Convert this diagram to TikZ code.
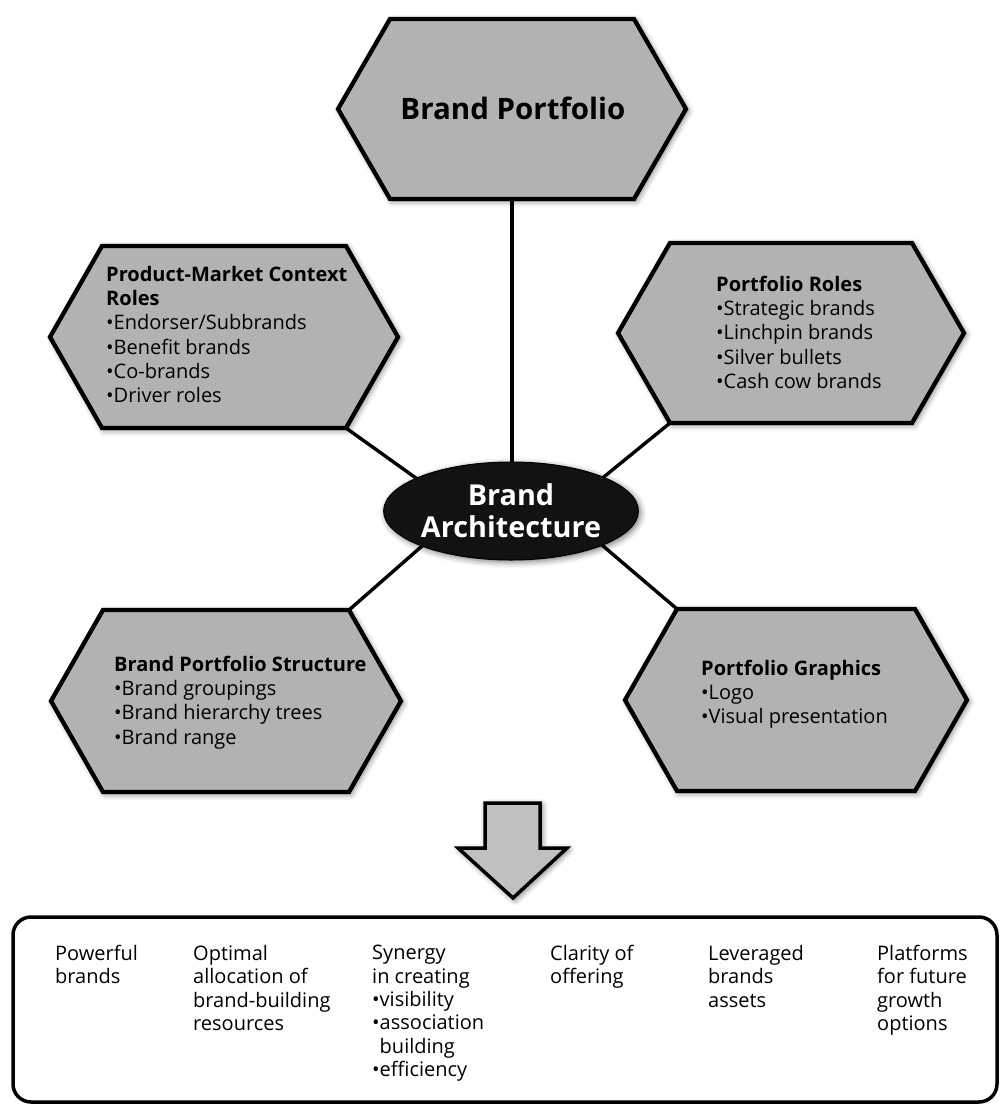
\documentclass[tikz,border=0pt]{standalone}
\usepackage{fontspec}
\setmainfont{Open Sans}
\usetikzlibrary{shadows.blur,shapes.geometric}

\definecolor{hexfill}{RGB}{178,178,178}
\definecolor{arrowfill}{RGB}{192,192,192}
\definecolor{hubfill}{RGB}{18,18,18}

\tikzset{
  softshadow/.style={blur shadow={shadow xshift=2pt, shadow yshift=-2pt,
      shadow blur radius=6pt, shadow opacity=55}},
  hexagon/.style={draw=black, line width=4.3pt, line join=miter,
      fill=hexfill, softshadow},
  link/.style={draw=black, line width=3.4pt},
  hextext/.style={anchor=north west, inner sep=0pt, align=left,
      font=\fontsize{20}{24.2}\selectfont},
  outcome/.style={anchor=north west, inner sep=0pt, align=left,
      font=\fontsize{20}{23.4}\selectfont},
}

% hexagon with pointed left/right ends: name, centre x, centre y, half width, half height
\newcommand\hexbox[5]{%
  \coordinate (#1-l)  at ({#2-#4},{#3});
  \coordinate (#1-tl) at ({#2-#4+52},{#3-#5});
  \coordinate (#1-tr) at ({#2+#4-52},{#3-#5});
  \coordinate (#1-r)  at ({#2+#4},{#3});
  \coordinate (#1-br) at ({#2+#4-52},{#3+#5});
  \coordinate (#1-bl) at ({#2-#4+52},{#3+#5});
  \coordinate (#1-b)  at ({#2},{#3+#5});
  \draw[hexagon] (#1-l) -- (#1-tl) -- (#1-tr) -- (#1-r) -- (#1-br) -- (#1-bl) -- cycle;
}

\begin{document}
\begin{tikzpicture}[x=1pt, y=-1pt]
  \useasboundingbox (0,0) rectangle (1001,1106);

  % hub anchor points for the spokes (hidden under the ellipse)
  \coordinate (hubL) at (462,511);
  \coordinate (hubR) at (562,511);
  \coordinate (hubT) at (512,511);

  % corner positions of the hexagons (needed before drawing the spokes)
  \coordinate (top-b)  at (512,199);
  \coordinate (pmc-br) at (346,428);
  \coordinate (pr-bl)  at (670,423);
  \coordinate (bps-tr) at (349,610);
  \coordinate (pg-tl)  at (677,609);

  % spokes
  \draw[link] (top-b)  -- (hubT);
  \draw[link] (pmc-br) -- (hubL);
  \draw[link] (bps-tr) -- (hubL);
  \draw[link] (pr-bl)  -- (hubR);
  \draw[link] (pg-tl)  -- (hubR);

  % hexagons
  \hexbox{top}{512}{109}{174}{90}
  \hexbox{pmc}{224}{337}{174}{91}
  \hexbox{pr}{791}{333}{173}{90}
  \hexbox{bps}{226}{701}{175}{91}
  \hexbox{pg}{796}{700}{171}{91}

  \node[font=\bfseries\fontsize{29.5}{30}\selectfont] (toptext) at (513,108) {Brand Portfolio};

  \node[hextext] (pmctext) at (106,266) {\textbf{Product-Market Context}\\
    \textbf{Roles}\\ •Endorser/Subbrands\\ •Benefit brands\\ •Co-brands\\ •Driver roles};
  \node[hextext] (prtext) at (716,276) {\textbf{Portfolio Roles}\\
    •Strategic brands\\ •Linchpin brands\\ •Silver bullets\\ •Cash cow brands};
  \node[hextext] (bpstext) at (114,656) {\textbf{Brand Portfolio Structure}\\
    •Brand groupings\\ •Brand hierarchy trees\\ •Brand range};
  \node[hextext] (pgtext) at (701,660) {\textbf{Portfolio Graphics}\\
    •Logo\\ •Visual presentation};

  % central hub
  \node[ellipse, fill=hubfill, draw=black, line width=1pt, minimum width=248pt,
        minimum height=98pt, inner sep=0pt, text=white, align=center, softshadow,
        font=\bfseries\fontsize{28.8}{32}\selectfont] (arch) at (511,511)
        {Brand\\Architecture};

  % down arrow
  \coordinate (a1) at (485,803);
  \coordinate (a2) at (540,803);
  \coordinate (a3) at (540,848);
  \coordinate (a4) at (567,848);
  \coordinate (a5) at (513,898);
  \coordinate (a6) at (458,848);
  \coordinate (a7) at (485,848);
  \draw[fill=arrowfill, draw=black, line width=3.5pt, line join=miter, softshadow]
    (a1) -- (a2) -- (a3) -- (a4) -- (a5) -- (a6) -- (a7) -- cycle;

  % outcome box
  \node[draw=black, line width=3.5pt, rounded corners=18pt, fill=white,
        minimum width=984pt, minimum height=185pt, inner sep=0pt] (box) at (505,1009.5) {};

  \node[outcome] (o1) at (55,945)  {Powerful\\brands};
  \node[outcome] (o2) at (193,945) {Optimal\\allocation of\\brand-building\\resources};
  \node[outcome] (o3) at (372,945) {Synergy\\in creating\\•visibility\\•association\\
    \phantom{•}building\\•efficiency};
  \node[outcome] (o4) at (550,945) {Clarity of\\offering};
  \node[outcome] (o5) at (708,945) {Leveraged\\brands\\assets};
  \node[outcome] (o6) at (877,945) {Platforms\\for future\\growth\\options};
\end{tikzpicture}
\end{document}
